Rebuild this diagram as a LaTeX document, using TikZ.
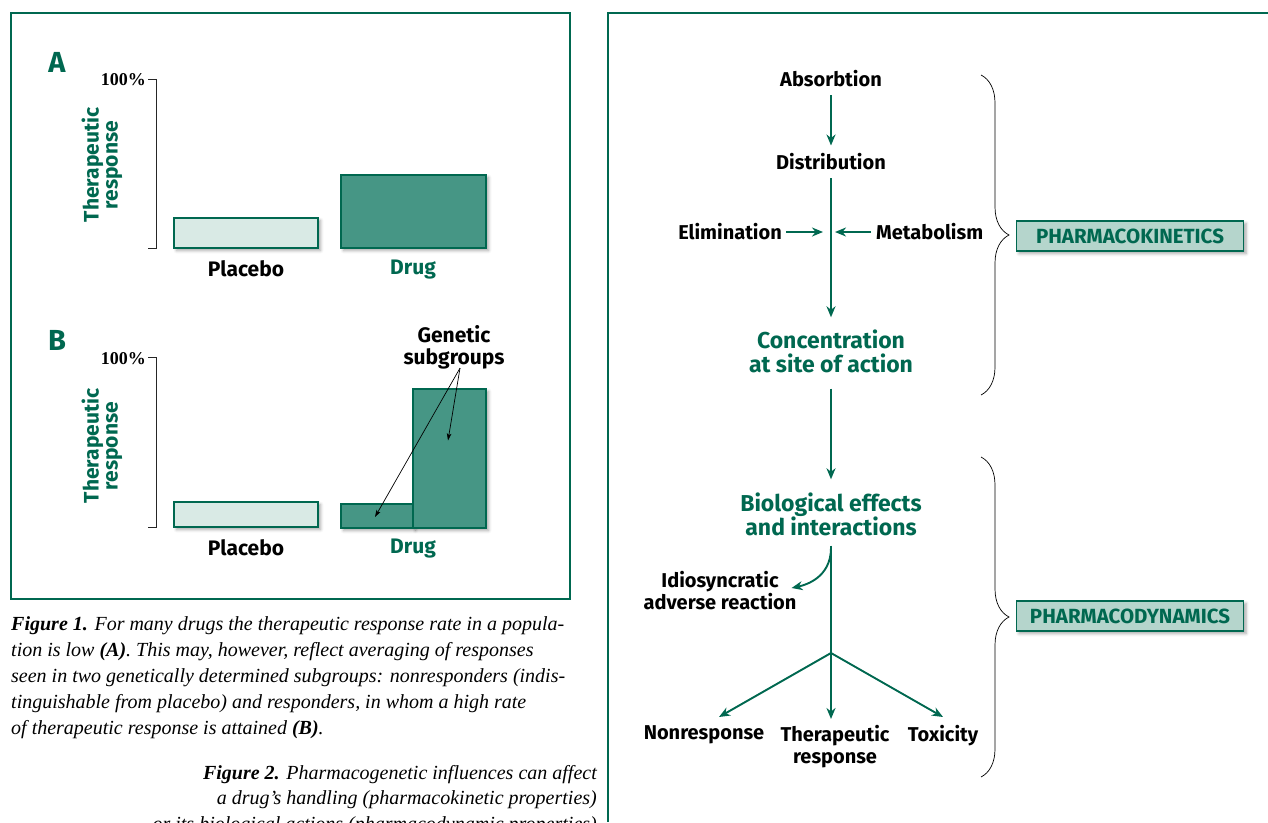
\documentclass[tikz,border=0pt]{standalone}
\usepackage{fontspec}
\setmainfont{Liberation Serif}
\newfontfamily\lab{Fira Sans}
\newfontfamily\capfont{Liberation Serif}
\usetikzlibrary{arrows.meta,shadows.blur,decorations.pathreplacing,calc}
\definecolor{dg}{RGB}{0,104,80}
\definecolor{drugfill}{RGB}{70,150,133}
\definecolor{placfill}{RGB}{217,234,229}
\definecolor{boxfill}{RGB}{181,213,204}
\begin{document}
\begin{tikzpicture}[x=1pt,y=-1pt,
  lbl/.style={font=\lab\bfseries\fontsize{20}{22}\selectfont, text=black, align=center, inner sep=0pt},
  plbl/.style={lbl, font=\lab\bfseries\fontsize{21}{22}\selectfont},
  gplbl/.style={plbl, text=dg},
  big/.style={font=\lab\bfseries\fontsize{23}{24}\selectfont, text=dg, align=center, inner sep=0pt},
  letter/.style={font=\lab\bfseries\fontsize{29}{30}\selectfont, text=dg, inner sep=0pt},
  pct/.style={font=\bfseries\fontsize{18}{20}\selectfont, text=black, inner sep=0pt},
  ylab/.style={font=\lab\bfseries\fontsize{21}{19}\selectfont, text=dg, align=center, inner sep=0pt, rotate=90},
  flow/.style={draw=dg, line width=1.9pt, -{Stealth[length=11pt,width=9pt,inset=3.5pt]}},
  plainline/.style={draw=dg, line width=1.9pt},
  thinarr/.style={draw=black, line width=0.7pt, -{Stealth[length=7pt,width=4.5pt,inset=1.5pt]}},
  framestyle/.style={draw=dg, line width=2pt},
  axisstyle/.style={draw=black!85, line width=0.9pt},
  shad/.style={blur shadow={shadow xshift=2.5pt, shadow yshift=-2.5pt, shadow blur radius=3pt, shadow opacity=35}},
  barstyle/.style={draw=dg, line width=1.2pt, inner sep=0pt, shad},
  kbox/.style={draw=dg, line width=1.2pt, fill=boxfill, minimum width=227pt, minimum height=30pt, inner sep=0pt,
    font=\lab\bfseries\fontsize{20.5}{22}\selectfont, text=dg, shad},
  bracestyle/.style={draw=black, line width=0.7pt, decorate, decoration={brace, amplitude=28pt}},
  captext/.style={font=\capfont\itshape\fontsize{20}{25}\selectfont, inner sep=0pt}
]
\useasboundingbox (0,0) rectangle (1268,822);
% frames
\draw[framestyle] (11,13) rectangle (570,599);
\draw[framestyle] (1268,13) -- (608,13) -- (608,822);

% ---------- Panel A ----------
\node[letter] (lA) at (57,62) {A};
\node[pct, anchor=east] (pA) at (146,80) {100\%};
\draw[axisstyle] (148,79) -- (156,79) -- (156,248) -- (148,248);
\node[ylab] (tA) at (102,165) {Therapeutic\\response};
\node[barstyle, fill=placfill, minimum width=144pt, minimum height=30pt] (plA) at (246,233) {};
\node[barstyle, fill=drugfill, minimum width=145pt, minimum height=73pt] (drA) at (413.5,211.5) {};
\node[plbl] (plAl) at (246,269) {Placebo};
\node[gplbl] (drAl) at (413,270) {Drug};

% ---------- Panel B ----------
\node[letter] (lB) at (57,340) {B};
\node[pct, anchor=east] (pB) at (146,359) {100\%};
\draw[axisstyle] (148,357) -- (156,357) -- (156,527) -- (148,527);
\node[ylab] (tB) at (102,446) {Therapeutic\\response};
\node[barstyle, fill=placfill, minimum width=144pt, minimum height=25pt] (plB) at (246,514.5) {};
\node[barstyle, fill=drugfill, minimum width=72pt, minimum height=24pt] (dS) at (377,516) {};
\node[barstyle, fill=drugfill, minimum width=73pt, minimum height=139pt] (dB) at (449.5,458.5) {};
\node[plbl] (plBl) at (246,548) {Placebo};
\node[gplbl] (drBl) at (413,549) {Drug};
\node[plbl, anchor=north] (gen) at (454,325) {Genetic\\subgroups};
\draw[thinarr] ($(gen.south)+(6,-1)$) -- ($(dS.center)+(-2,1)$);
\draw[thinarr] ($(gen.south)+(6,-1)$) -- ($(dB.center)+(-1.5,-18)$);

% ---------- Captions ----------
\node[captext, anchor=base west] (c1) at (11,630) {\textbf{Figure 1.} For many drugs the therapeutic response rate in a popula-};
\node[captext, anchor=base west] (c2) at (11,656) {tion is low \textbf{(A)}. This may, however, reflect averaging of responses};
\node[captext, anchor=base west] (c3) at (11,682) {seen in two genetically determined subgroups: nonresponders (indis-};
\node[captext, anchor=base west] (c4) at (11,708) {tinguishable from placebo) and responders, in whom a high rate};
\node[captext, anchor=base west] (c5) at (11,734) {of therapeutic response is attained \textbf{(B)}.};
\node[captext, anchor=base east] (f1) at (597,779) {\textbf{Figure 2.} Pharmacogenetic influences can affect};
\node[captext, anchor=base east] (f2) at (597,804) {a drug’s handling (pharmacokinetic properties)};
\begin{scope}
\clip (0,0) rectangle (1268,822);
\node[captext, anchor=base east] (f3) at (597,830) {or its biological actions (pharmacodynamic properties)};
\end{scope}

% ---------- Right panel ----------
\node[lbl] (abs) at (831,79) {Absorbtion};
\node[lbl] (dist) at (831,162) {Distribution};
\coordinate (mid) at (831,232);
\node[lbl, anchor=east] (elim) at (782,232) {Elimination};
\node[lbl, anchor=west] (met) at (876,232) {Metabolism};
\node[big] (conc) at (831,351) {Concentration\\at site of action};
\node[big] (bio) at (831,514) {Biological effects\\and interactions};
\node[lbl] (idio) at (720,591) {Idiosyncratic\\adverse reaction};
\coordinate (br) at (831,653);
\node[lbl, anchor=north] (non) at (704,725) {Nonresponse};
\node[lbl, anchor=north] (ther) at (835,725) {Therapeutic\\response};
\node[lbl, anchor=north] (tox) at (943,725) {Toxicity};

\draw[flow, shorten <=8pt, shorten >=8pt] (abs) -- (dist);
\draw[flow, shorten <=8pt, shorten >=12pt] (dist) -- (conc);
\draw[flow, shorten <=4pt, shorten >=8pt] (elim) -- (mid);
\draw[flow, shorten <=5pt, shorten >=4pt] (met) -- (mid);
\draw[flow, shorten <=16pt, shorten >=13pt] (conc) -- (bio);
\draw[plainline, shorten <=10pt] (bio) -- (br);
\draw[flow] ($(bio.south)+(0,12)$) .. controls +(0,30) and +(14,-3) .. ($(idio.east)+(-5,-3)$);
\draw[flow] (br) -- ($(non.north)+(15,-8)$);
\draw[flow] (br) -- ($(ther.north)+(-4,-6)$);
\draw[flow] (br) -- ($(tox.north)+(0,-8)$);

% braces and boxes
\draw[bracestyle] (981,75) -- (981,395);
\draw[bracestyle] (981,457) -- (981,777);
\node[kbox] (pk) at (1130,236) {PHARMACOKINETICS};
\node[kbox] (pd) at (1130,616) {PHARMACODYNAMICS};
\end{tikzpicture}
\end{document}
